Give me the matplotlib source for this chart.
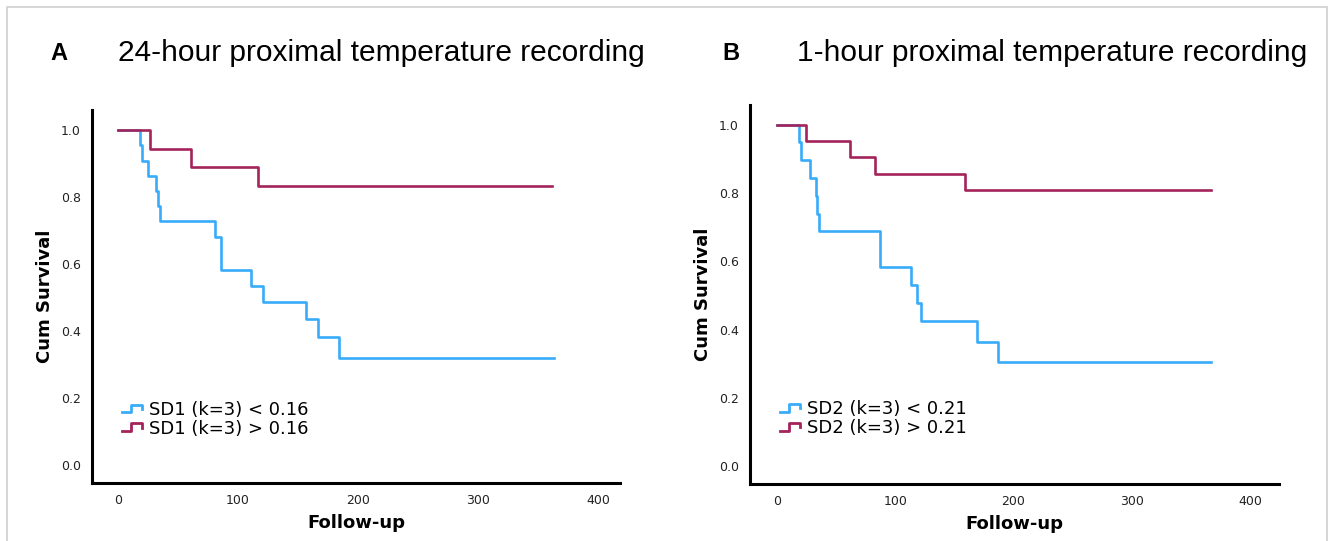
import matplotlib
matplotlib.use("Agg")
import matplotlib.pyplot as plt
from matplotlib.legend_handler import HandlerBase
from matplotlib.lines import Line2D
from matplotlib.patches import Rectangle

BLUE = "#38acf8"
RED = "#a3235a"

# panel A: 24-hour recording
a_low_t = [0, 18, 20, 24.7, 32, 33.3, 35, 81, 86, 111, 120.5, 157, 167, 184, 363]
a_low_s = [1.0, 0.955, 0.909, 0.864, 0.818, 0.773, 0.727, 0.68, 0.582, 0.535, 0.487, 0.437, 0.383, 0.32, 0.32]
a_high_t = [0, 27, 60.5, 117, 362]
a_high_s = [1.0, 0.944, 0.889, 0.833, 0.833]
a_labels = ["SD1 (k=3) < 0.16", "SD1 (k=3) > 0.16"]

# panel B: 1-hour recording
b_low_t = [0, 18.9, 20, 27.9, 33, 34, 35.8, 87, 113, 118, 122, 169, 187, 367]
b_low_s = [1.0, 0.95, 0.897, 0.845, 0.792, 0.739, 0.688, 0.584, 0.531, 0.479, 0.426, 0.365, 0.304, 0.304]
b_high_t = [0, 24.5, 61.7, 82.6, 159, 367]
b_high_s = [1.0, 0.952, 0.905, 0.857, 0.81, 0.81]
b_labels = ["SD2 (k=3) < 0.21", "SD2 (k=3) > 0.21"]


class StepHandler(HandlerBase):
    # little step glyph like SPSS legends
    def create_artists(self, legend, orig, xd, yd, w, h, fontsize, trans):
        xs = [xd, xd + w * 0.45, xd + w * 0.45, xd + w, xd + w]
        ys = [yd + h * 0.2, yd + h * 0.2, yd + h * 0.8, yd + h * 0.8, yd + h * 0.45]
        ln = Line2D(xs, ys, color=orig.get_color(), lw=2, transform=trans)
        return [ln]


fig = plt.figure(figsize=(13.3, 5.41), dpi=100)
fig.patches.append(Rectangle((0.005, -0.05), 0.993, 1.037, transform=fig.transFigure,
                             fill=False, edgecolor="#d0d0d0", lw=1.2))

panels = [
    ([0.0692, 0.1072, 0.3970, 0.6895], (-21.7, 418.3), (-0.054, 1.06),
     a_low_t, a_low_s, a_high_t, a_high_s, a_labels, "A", "24-hour proximal temperature recording", 0.038, 0.0887),
    ([0.5639, 0.1054, 0.3978, 0.7006], (-22.8, 424.5), (-0.053, 1.059),
     b_low_t, b_low_s, b_high_t, b_high_s, b_labels, "B", "1-hour proximal temperature recording", 0.543, 0.599),
]

for rect, xl, yl, lt, ls, ht, hs, labels, letter, title, lx, tx in panels:
    ax = fig.add_axes(rect)
    l1, = ax.step(lt, ls, where="post", color=BLUE, lw=1.9)
    l2, = ax.step(ht, hs, where="post", color=RED, lw=1.9)
    ax.set_xlim(*xl)
    ax.set_ylim(*yl)
    ax.set_xticks([0, 100, 200, 300, 400])
    ax.set_yticks([0.0, 0.2, 0.4, 0.6, 0.8, 1.0])
    ax.set_yticklabels(["0.0", "0.2", "0.4", "0.6", "0.8", "1.0"])
    ax.tick_params(length=0, labelsize=9, pad=8, colors="#222222")
    ax.spines[["top", "right"]].set_visible(False)
    ax.spines[["left", "bottom"]].set_linewidth(2.2)
    ax.set_xlabel("Follow-up", fontsize=13, fontweight="bold", labelpad=5)
    ax.set_ylabel("Cum Survival", fontsize=13, fontweight="bold", labelpad=5)
    ax.legend([l1, l2], labels, handler_map={Line2D: StepHandler()},
              loc="upper left", bbox_to_anchor=(0.04, 0.245), frameon=False,
              fontsize=13, handlelength=1.1, handletextpad=0.4,
              labelspacing=0.05, borderpad=0)
    fig.text(lx, 0.902, letter, fontsize=17, fontweight="bold", va="center",
             family="Liberation Sans")
    fig.text(tx, 0.902, title, fontsize=21.5, va="center", family="Liberation Sans")

fig.savefig("out.png", dpi=100, facecolor="white")
